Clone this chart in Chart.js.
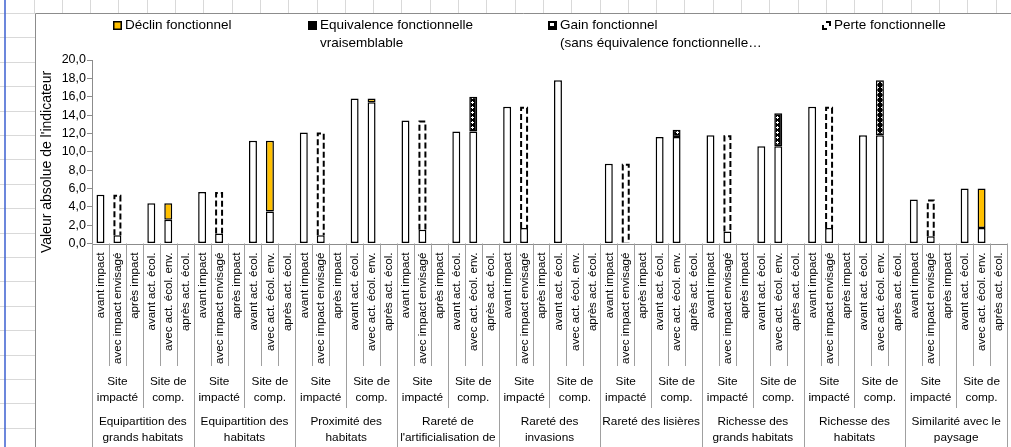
<!DOCTYPE html>
<html>
<head>
<meta charset="utf-8">
<script src="https://cdn.jsdelivr.net/npm/chart.js@4.4.0/dist/chart.umd.min.js"></script>
<style>
  html, body { margin: 0; padding: 0; background: #fff; overflow: hidden; }
  canvas { display: block; }
</style>
</head>
<body>
<canvas id="chart" width="1011" height="447"></canvas>
<script>
// Phases shown for each indicator (first three: impacted site, last three: compensation site)
const phaseLabels = ['avant impact', 'avec impact envisagé', 'après impact',
                     'avant act. écol.', 'avec act. écol. env.', 'après act. écol.'];
const siteLabels = [['Site', 'impacté'], ['Site de', 'comp.']];
const indicatorLabels = [
  ['Equipartition des', 'grands habitats'],
  ['Equipartition des', 'habitats'],
  ['Proximité des', 'habitats'],
  ['Rareté de', "l'artificialisation de"],
  ['Rareté des', 'invasions'],
  ['Rareté des lisières'],
  ['Richesse des', 'grands habitats'],
  ['Richesse des', 'habitats'],
  ['Similarité avec le', 'paysage']
];

// Indicator value kept (white part of each bar)
const baseValues = [
  5.3, 0.9, 0, 4.4, 2.6, 0,
  5.6, 1.1, 0, 11.2, 3.5, 0,
  12.1, 0.9, 0, 15.8, 15.4, 0,
  13.4, 1.5, 0, 12.2, 12.2, 0,
  14.9, 1.7, 0, 17.8, 0, 0,
  8.7, 0.1, 0, 11.6, 11.6, 0,
  11.8, 1.3, 0, 10.6, 10.6, 0,
  14.9, 1.7, 0, 11.8, 11.8, 0,
  4.8, 0.8, 0, 6.0, 1.7, 0
];
const perteValues = [
  0, 4.4, 0, 0, 0, 0,
  0, 4.5, 0, 0, 0, 0,
  0, 11.2, 0, 0, 0, 0,
  0, 11.9, 0, 0, 0, 0,
  0, 13.2, 0, 0, 0, 0,
  0, 8.6, 0, 0, 0, 0,
  0, 10.5, 0, 0, 0, 0,
  0, 13.2, 0, 0, 0, 0,
  0, 4.0, 0, 0, 0, 0
];
const declinValues = [
  0, 0, 0, 0, 1.8, 0,
  0, 0, 0, 0, 7.7, 0,
  0, 0, 0, 0, 0.4, 0,
  0, 0, 0, 0, 0, 0,
  0, 0, 0, 0, 0, 0,
  0, 0, 0, 0, 0, 0,
  0, 0, 0, 0, 0, 0,
  0, 0, 0, 0, 0, 0,
  0, 0, 0, 0, 4.3, 0
];
const equivalenceValues = [
  0, 0, 0, 0, 0, 0,
  0, 0, 0, 0, 0, 0,
  0, 0, 0, 0, 0, 0,
  0, 0, 0, 0, 0, 0,
  0, 0, 0, 0, 0, 0,
  0, 0, 0, 0, 0, 0,
  0, 0, 0, 0, 0, 0,
  0, 0, 0, 0, 0, 0,
  0, 0, 0, 0, 0, 0
];
const gainValues = [
  0, 0, 0, 0, 0, 0,
  0, 0, 0, 0, 0, 0,
  0, 0, 0, 0, 0, 0,
  0, 0, 0, 0, 3.8, 0,
  0, 0, 0, 0, 0, 0,
  0, 0, 0, 0, 0.8, 0,
  0, 0, 0, 0, 3.6, 0,
  0, 0, 0, 0, 6.0, 0,
  0, 0, 0, 0, 0, 0
];
const yTitle = "Valeur absolue de l'indicateur";
const legendItems = [
  { key: 'declin', lines: ['Déclin fonctionnel'] },
  { key: 'equiv', lines: ['Equivalence fonctionnelle', 'vraisemblable'] },
  { key: 'gain', lines: ['Gain fonctionnel', '(sans équivalence fonctionnelle…'] },
  { key: 'perte', lines: ['Perte fonctionnelle'] }
];

const categories = indicatorLabels.flatMap(g => phaseLabels.map(p => g.join(' ') + ' | ' + p));

const FONT = '"Liberation Sans", Arial, sans-serif';
const canvas = document.getElementById('chart');
const ctx = canvas.getContext('2d');

// black fill with small white marks for the "gain" segments
function gainPattern() {
  const c = document.createElement('canvas');
  c.width = 5; c.height = 5;
  const g = c.getContext('2d');
  g.fillStyle = '#000'; g.fillRect(0, 0, 5, 5);
  g.fillStyle = '#fff';
  g.fillRect(2, 1, 1, 3);
  g.fillRect(1, 2, 3, 1);
  return ctx.createPattern(c, 'repeat');
}

// spreadsheet cells around the chart object, and the chart frame
const sheetBackground = {
  id: 'sheetBackground',
  beforeDraw(chart) {
    const c = chart.ctx;
    const W = chart.width, H = chart.height;
    c.save();
    c.fillStyle = '#fff';
    c.fillRect(0, 0, W, H);
    c.strokeStyle = '#d9d9d9';
    c.lineWidth = 1;
    c.beginPath();
    for (let x = 33.5; x < W; x += 28.3) {
      const px = Math.round(x) + 0.5;
      c.moveTo(px, 0); c.lineTo(px, 13);
    }
    for (let y = 13; y < H; y += 24.4) {
      const py = Math.round(y) + 0.5;
      c.moveTo(0, py); c.lineTo(35, py);
    }
    c.stroke();
    c.strokeStyle = '#3b5fd0';
    c.lineWidth = 1.5;
    c.beginPath(); c.moveTo(5, 0); c.lineTo(5, H); c.stroke();
    c.strokeStyle = '#8c8c8c';
    c.lineWidth = 1;
    c.beginPath();
    c.moveTo(35.5, H); c.lineTo(35.5, 13.5); c.lineTo(W, 13.5);
    c.stroke();
    c.restore();
  }
};

// dashed outline of the "perte" segments
const dashedLoss = {
  id: 'dashedLoss',
  afterDatasetsDraw(chart) {
    const meta = chart.getDatasetMeta(1);
    const c = chart.ctx;
    c.save();
    c.strokeStyle = '#000';
    c.lineWidth = 2;
    c.setLineDash([6, 3]);
    meta.data.forEach((el, i) => {
      if (!perteValues[i]) return;
      const p = el.getProps(['x', 'y', 'base', 'width'], true);
      const left = p.x - p.width / 2 + 1, right = p.x + p.width / 2 - 1;
      c.beginPath();
      c.moveTo(left, p.base);
      c.lineTo(left, p.y + 1);
      c.lineTo(right, p.y + 1);
      c.lineTo(right, p.base);
      c.stroke();
    });
    c.restore();
  }
};

// three-level category axis, legend and value axis title
const decorations = {
  id: 'decorations',
  afterDraw(chart) {
    const c = chart.ctx;
    const xs = chart.scales.x;
    const area = chart.chartArea;
    const step = xs.getPixelForValue(1) - xs.getPixelForValue(0);
    const n = categories.length;
    c.save();

    // axis line along zero
    c.strokeStyle = '#8c8c8c';
    c.lineWidth = 1;
    c.beginPath();
    c.moveTo(area.left, Math.round(area.bottom) + 0.5);
    c.lineTo(area.right, Math.round(area.bottom) + 0.5);
    c.stroke();

    // separators
    c.strokeStyle = '#a0a0a0';
    c.beginPath();
    for (let k = 0; k <= n; k++) {
      const x = Math.round(xs.getPixelForValue(0) - step / 2 + k * step) + 0.5;
      const end = k % 6 === 0 ? chart.height : (k % 3 === 0 ? 408 : 366);
      c.moveTo(x, area.bottom);
      c.lineTo(x, end);
    }
    c.stroke();

    c.fillStyle = '#000';
    // rotated phase labels
    c.font = '11.6px ' + FONT;
    c.textAlign = 'right';
    c.textBaseline = 'middle';
    categories.forEach((cat, i) => {
      const x = xs.getPixelForValue(i);
      c.save();
      c.translate(x + 0.5, area.bottom + 9);
      c.rotate(-Math.PI / 2);
      c.fillText(phaseLabels[i % 6], 0, 0);
      c.restore();
    });

    // site labels
    c.textAlign = 'center';
    c.font = '11.8px ' + FONT;
    for (let g = 0; g < n / 3; g++) {
      const x = (xs.getPixelForValue(g * 3) + xs.getPixelForValue(g * 3 + 2)) / 2;
      siteLabels[g % 2].forEach((t, j) => c.fillText(t, x, 382 + j * 15.5));
    }
    // indicator labels
    indicatorLabels.forEach((lines, g) => {
      const x = (xs.getPixelForValue(g * 6) + xs.getPixelForValue(g * 6 + 5)) / 2;
      lines.forEach((t, j) => c.fillText(t, x, 422 + j * 15.5));
    });

    // value axis title
    c.save();
    c.font = '14px ' + FONT;
    c.translate(47, 162);
    c.rotate(-Math.PI / 2);
    c.textAlign = 'center';
    c.fillText(yTitle, 0, 0);
    c.restore();

    // legend
    const legendPos = { declin: 113, equiv: 308, gain: 548, perte: 822 };
    c.font = '13.5px ' + FONT;
    c.textAlign = 'left';
    legendItems.forEach(item => {
      const bx = legendPos[item.key], by = 21;
      if (item.key === 'declin') {
        c.fillStyle = '#000'; c.fillRect(bx, by, 9, 9);
        c.fillStyle = '#FFC000'; c.fillRect(bx + 1.5, by + 1.5, 6, 6);
      } else if (item.key === 'equiv') {
        c.fillStyle = '#000'; c.fillRect(bx, by, 9, 9);
      } else if (item.key === 'gain') {
        c.fillStyle = '#000'; c.fillRect(bx, by, 9, 9);
        c.fillStyle = '#fff'; c.fillRect(bx + 2, by + 2, 4, 3);
      } else {
        c.strokeStyle = '#000'; c.lineWidth = 2;
        c.beginPath();
        c.moveTo(bx + 1, by + 4); c.lineTo(bx + 1, by + 8); c.lineTo(bx + 5, by + 8);
        c.moveTo(bx + 4, by + 1); c.lineTo(bx + 8, by + 1); c.lineTo(bx + 8, by + 5);
        c.stroke();
      }
      c.fillStyle = '#000';
      item.lines.forEach((t, j) => c.fillText(t, bx + 12, by + 4.5 + j * 18));
    });
    c.restore();
  }
};

const barStyle = { borderColor: '#000', borderWidth: 1.5, borderSkipped: false };

new Chart(ctx, {
  type: 'bar',
  data: {
    labels: categories,
    datasets: [
      Object.assign({ label: 'Valeur', data: baseValues, backgroundColor: '#fff' }, barStyle),
      { label: 'Perte fonctionnelle', data: perteValues, backgroundColor: '#fff', borderWidth: 0 },
      Object.assign({ label: 'Déclin fonctionnel', data: declinValues, backgroundColor: '#FFC000' }, barStyle),
      { label: 'Equivalence fonctionnelle vraisemblable', data: equivalenceValues, backgroundColor: '#000', borderWidth: 0 },
      Object.assign({ label: 'Gain fonctionnel (sans équivalence fonctionnelle…)', data: gainValues, backgroundColor: gainPattern() }, barStyle)
    ]
  },
  options: {
    responsive: false,
    animation: false,
    events: [],
    layout: { padding: { left: 0, top: 60, right: 4, bottom: 0 } },
    datasets: { bar: { categoryPercentage: 1, barPercentage: 0.47 } },
    plugins: { legend: { display: false }, tooltip: { enabled: false } },
    scales: {
      x: {
        stacked: true,
        grid: { display: false },
        border: { display: false },
        ticks: { display: false },
        afterFit(scale) { scale.height = 447 - 243.5; }
      },
      y: {
        stacked: true,
        min: 0,
        max: 20,
        afterFit(scale) { scale.width = 92; },
        border: { display: true, color: '#8c8c8c', width: 1 },
        grid: { drawOnChartArea: false, drawTicks: true, tickLength: 5, color: '#8c8c8c' },
        ticks: {
          stepSize: 2,
          padding: 1,
          color: '#000',
          font: { family: FONT, size: 12.5 },
          callback: v => v.toFixed(1).replace('.', ',')
        }
      }
    }
  },
  plugins: [sheetBackground, dashedLoss, decorations]
});
</script>
</body>
</html>
